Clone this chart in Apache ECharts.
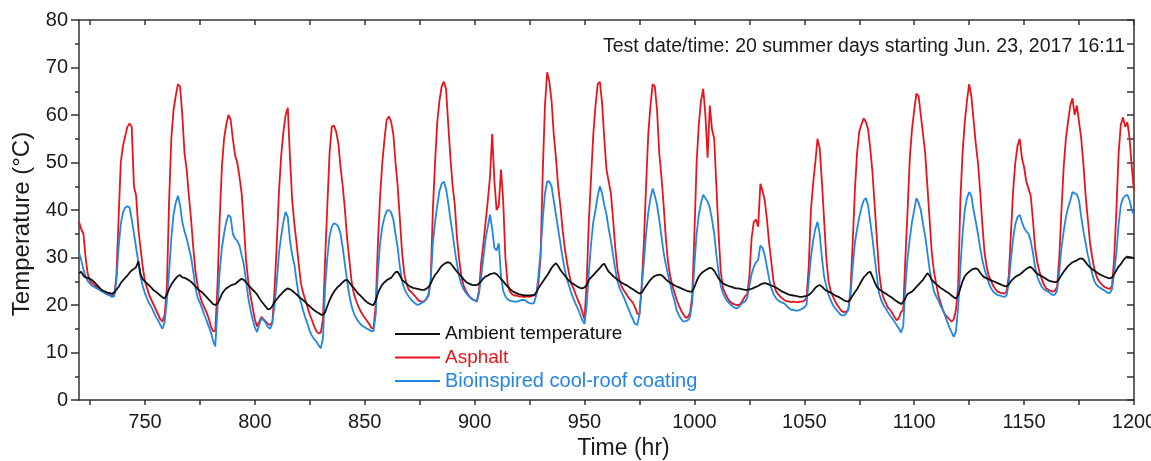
<!DOCTYPE html>
<html>
<head>
<meta charset="utf-8">
<script src="https://cdn.jsdelivr.net/npm/echarts@6/dist/echarts.min.js"></script>
<style>
html,body{margin:0;padding:0;background:#fff;overflow:hidden;width:1151px;height:461px;}
#chart{position:absolute;left:0;top:0;width:1151px;height:461px;}
</style>
</head>
<body>
<div id="chart"></div>
<script>
// Sampling grid: one reading per hour from hour 720 to 1200
const startHour = 720;
const stepHours = 1;

const seriesNames = ['Ambient temperature', 'Asphalt', 'Bioinspired cool-roof coating'];
const xLabelValues = [750, 800, 850, 900, 950, 1000, 1050, 1100, 1150, 1200];
const xTickValues = [725, 750, 775, 800, 825, 850, 875, 900, 925, 950, 975, 1000, 1025, 1050, 1075, 1100, 1125, 1150, 1175, 1200];
const annotation = 'Test date/time: 20 summer days starting Jun. 23, 2017 16:11';

const asphalt = [
37.5, 36, 35, 30, 26.5, 25, 24.6, 24.2, 23.8, 23.4,
23, 22.8, 22.6, 22.4, 22.2, 22, 22, 26, 38, 50,
53.5, 55.5, 57.5, 58.2, 57.5, 45, 43, 36, 32, 28,
25, 23.5, 22, 21, 20, 19, 18, 17, 16.5, 18,
24, 42, 55, 61, 64, 66.5, 66, 60, 52, 48.5,
43, 38, 32, 27, 24, 22, 20.5, 19.5, 18.5, 17.2,
15.5, 14.5, 14.5, 24, 38, 49, 55, 58, 60, 59,
55, 51.5, 50, 47, 43.5, 37, 29.5, 25, 22, 19.5,
17, 15.5, 16.5, 17.5, 17, 16.5, 16, 15.8, 16.5, 23.5,
33, 44, 51.5, 56.5, 60, 61.5, 51, 42, 37, 33,
28.5, 24.5, 22.5, 21, 19.5, 18, 16.8, 15.5, 14.5, 14,
14.2, 17, 30, 41, 52, 57.5, 57.8, 56.5, 54, 49,
45, 40, 34, 29.5, 25, 22.5, 21, 19.8, 18.8, 18,
17.3, 16.7, 16, 15.2, 15, 20, 33, 43, 50, 55,
59, 59.7, 58.6, 56, 50, 45, 38, 31, 26.5, 24.5,
23.2, 22.8, 22.3, 21.8, 21.2, 20.8, 20.7, 20.8, 21.2, 22,
25, 40, 50, 58.5, 63, 66, 67, 65.5, 58, 51,
45, 41, 34, 29.5, 26, 24, 23, 22.2, 21.6, 21.2,
21, 20.8, 23, 29, 33, 37.5, 42, 47, 56, 46,
40, 41, 48.5, 42, 30, 24.5, 22.8, 22.3, 22, 22,
21.8, 21.8, 21.7, 21.7, 21.8, 21.7, 21.9, 22, 22.2, 24.5,
30, 48, 62, 69, 67, 63, 56, 51, 45, 41,
36, 32, 29, 26.5, 24.5, 23.5, 22.2, 21, 20, 18.5,
17, 25, 38, 47, 56, 62, 66.5, 67, 62.5, 55,
48.5, 46, 43.5, 38, 32, 27.5, 25, 23.8, 23, 22.3,
21.6, 21, 20.5, 19.5, 18.2, 18, 24, 33, 45, 56,
62, 66.5, 66, 61, 52, 47, 41, 34, 29, 26,
24, 22.5, 21, 19.8, 18.8, 18, 17.3, 17.5, 18.3, 22,
35, 50, 58, 63, 65.5, 60, 51, 62, 57, 55,
45, 35, 27, 23.5, 22.5, 21.5, 20.8, 20.4, 20.2, 20,
20, 20.2, 21, 21.8, 22.3, 26, 34, 37.5, 38, 36.5,
45.5, 44, 42, 38, 33, 29, 25, 23, 22.3, 21.8,
21.4, 21, 20.8, 20.7, 20.6, 20.7, 20.6, 20.6, 20.7, 20.7,
20.9, 21.5, 28, 40, 45.5, 50, 55, 53, 46, 38,
30, 25, 23, 21.8, 20.8, 20, 19.3, 18.7, 18.5, 18.6,
19, 23, 33, 44, 52, 56.5, 58, 59.3, 58.6, 57,
53, 48, 41, 34, 27, 23.5, 21.5, 20.5, 19.5, 19,
18.3, 17.5, 16.8, 17.2, 18.5, 19, 30, 40, 51, 57,
61, 64.5, 64, 60, 56, 52, 45, 38, 31, 27,
24.5, 22, 20.5, 19, 18, 17.5, 17, 16.5, 17, 19,
24, 42, 52, 58.5, 63, 66.5, 64, 59, 54, 50,
44, 37, 31, 28, 26, 25, 24, 23.3, 22.8, 22.6,
22.5, 22.4, 22.8, 26, 35, 44, 50, 53.5, 55, 51,
49, 46, 44.5, 43, 38, 32, 29, 27, 25.5, 24.3,
23.5, 23.2, 23, 22.8, 23, 23.8, 30, 40, 49, 55,
58.6, 62, 63.5, 60, 62, 58.5, 55, 49.5, 43, 38,
33, 30, 27.5, 26, 25, 24.5, 24, 23.7, 23.5, 23.4,
24, 30, 40, 52, 58, 59.5, 57.5, 58.5, 55, 49,
44
];

const coating = [
31, 29.5, 27.5, 26, 25, 24.5, 24, 23.8, 23.5, 23.3,
23, 22.7, 22.4, 22.2, 22, 21.7, 21.8, 25, 32, 37,
39.5, 40.5, 40.8, 40.5, 38, 35, 32, 29, 26, 24,
22.5, 21.3, 20.3, 19.5, 18.5, 17.5, 16.8, 15.8, 15, 16.5,
21, 27, 34, 39, 41.5, 43, 41, 37.5, 35.5, 34,
32, 30, 27, 23.5, 21.5, 20.5, 19.3, 18, 16.8, 15.5,
14.2, 12.5, 11.3, 19, 27, 32, 35, 37.5, 39, 38.5,
35, 34, 33.5, 32.5, 30.5, 28.5, 25, 21.5, 19, 17,
15.3, 14.3, 15.8, 17.2, 16.8, 16.2, 15.3, 15, 16.3, 20,
25, 31, 34.5, 37.5, 39.6, 38.5, 33.5, 30.5, 28.5, 25,
22, 20.5, 18.8, 17.3, 16, 14.5, 13.5, 12.8, 12.3, 11.5,
10.9, 13, 24, 30, 34.5, 36.5, 37.2, 37, 36.5, 35,
32, 28.5, 25, 22, 19.8, 18.3, 17.3, 16.6, 16, 15.6,
15.3, 15, 14.8, 14.5, 14.5, 18, 27, 33, 36.5, 38.5,
39.8, 40, 39.5, 38, 35, 32, 28, 25, 23.5, 22.5,
21.8, 21.2, 20.7, 20.3, 20, 20.2, 20.5, 20.7, 21.3, 22.3,
25, 33, 37.5, 41, 44, 45.5, 46, 44.5, 41.5, 38,
35, 31.5, 28.5, 26, 24.3, 23.3, 22.6, 22, 21.6, 21.2,
21, 20.7, 22.5, 26, 30, 34, 36.5, 39, 36, 32,
31.5, 33, 26, 23, 21.8, 21.2, 20.9, 20.8, 20.7, 20.7,
20.8, 21, 21.1, 21, 20.6, 20.4, 20.3, 20.4, 22, 26,
31, 38, 43.5, 46, 46, 45, 42, 39, 36, 33,
30, 27.5, 25.5, 24, 22.5, 21.3, 20.2, 19.2, 18, 16.8,
16, 20, 27, 33, 37.5, 40, 43, 45, 43.5, 41,
39, 36, 33.5, 30.5, 27.5, 25, 23.5, 22.5, 21.5, 20.3,
19.2, 18, 17, 16, 15.8, 18, 23.5, 29, 35, 39.5,
42.5, 44.5, 43, 41, 38, 34.5, 31, 28.5, 26.3, 24.5,
22.3, 20.8, 18.8, 17.8, 17, 16.5, 16.6, 16.8, 17.5, 20.5,
28.5, 35, 39, 41.5, 43.2, 42.5, 41.8, 40.5, 38, 35,
30.5, 27, 24, 22.5, 21.5, 20.8, 20.3, 19.9, 19.5, 19.3,
19.5, 20, 20.5, 20.7, 21.5, 24, 26.5, 28, 29, 29.5,
32.5, 32, 30.5, 28, 25.5, 23.5, 22.3, 21.5, 21, 20.7,
20.5, 20.3, 19.8, 19.3, 19, 19, 18.8, 18.8, 19, 19.2,
19.5, 20, 25, 30, 33.5, 36, 37.5, 35, 30, 26,
24, 22.2, 21, 20, 19.3, 18.8, 18.2, 17.8, 17.8, 18.2,
19, 22, 28, 33, 36, 38.5, 40.5, 42, 42.5, 41,
37.5, 34, 30, 26, 22.5, 21, 20, 19.3, 18.5, 17.8,
17.2, 16.5, 15.8, 15.1, 14.2, 15.5, 24, 30, 34, 37.5,
40, 42.5, 41.5, 40, 37, 34.5, 31, 27.5, 25, 22.8,
21.8, 21, 19.8, 19, 17.8, 16.5, 15.3, 14.3, 13.3, 14.5,
19.5, 28, 35, 40, 42.5, 43.8, 43, 40, 37.5, 35,
32, 29.5, 27.5, 26, 24.5, 23.5, 22.8, 22.4, 22.1, 22,
21.8, 21.7, 22, 24.5, 29.5, 34, 37, 38.5, 39, 37.5,
36.2, 35.5, 35, 33.5, 31, 28, 26, 24.8, 23.9, 23.3,
23, 22.8, 22.4, 22.1, 22.2, 23, 27, 32, 35.5, 38.5,
40.5, 42, 43.8, 43.5, 43.3, 42, 38.5, 35.5, 33, 30.5,
28.5, 26.5, 25, 24.2, 23.8, 23.5, 23.2, 22.9, 22.6, 22.5,
23.3, 27, 31, 37, 41, 42.5, 43, 43.2, 42, 40,
39
];

const ambient = [
26.7, 27, 26.2, 25.8, 25.7, 25.5, 25.2, 24.8, 24.3, 23.8,
23.3, 23, 22.8, 22.6, 22.5, 22.4, 22.6, 23.2, 23.8, 24.6,
25.2, 25.7, 26.2, 26.8, 27.3, 27.6, 28, 29.2, 26.5, 25.4,
25, 24.5, 24.1, 23.6, 23.1, 22.8, 22.4, 22, 21.6, 21.4,
22.2, 23.4, 24.3, 25, 25.6, 26.1, 26.3, 25.8, 25.7, 25.5,
25.2, 24.9, 24.4, 23.9, 23.4, 23, 22.7, 22.2, 21.7, 21.2,
20.7, 20.2, 20, 20.3, 21.2, 22.3, 23, 23.5, 23.8, 24.1,
24.3, 24.4, 24.8, 25.2, 25.5, 25.3, 24.8, 24.2, 23.7, 23.2,
22.8, 22.2, 21.5, 20.8, 20.2, 19.6, 19.1, 19.2, 19.8, 20.7,
21.2, 21.8, 22.3, 22.8, 23.2, 23.5, 23.3, 23, 22.6, 22.2,
21.8, 21.4, 21, 20.6, 20.1, 19.7, 19.3, 18.9, 18.6, 18.3,
18, 17.9, 18.5, 19.8, 21, 22, 22.8, 23.4, 23.9, 24.3,
24.8, 25.2, 25.3, 24.7, 24.1, 23.6, 23, 22.4, 22, 21.5,
21, 20.6, 20.3, 20.1, 20, 21, 22.5, 23.5, 24.3, 24.8,
25.2, 25.5, 25.7, 26.3, 26.9, 27, 26.2, 25.3, 24.9, 24.5,
24.1, 23.8, 23.6, 23.5, 23.4, 23.3, 23.2, 23.2, 23.4, 23.8,
24.5, 25.5, 26.3, 26.9, 27.6, 28.2, 28.6, 28.9, 29, 28.8,
28.2, 27.6, 27, 26.5, 26, 25.4, 24.9, 24.6, 24.4, 24.2,
24.2, 24.2, 24.5, 25, 25.6, 26, 26.2, 26.5, 26.6, 26.7,
26.5, 26, 25.5, 25, 24.4, 23.9, 23.4, 23, 22.7, 22.5,
22.3, 22.2, 22.1, 22, 22, 22, 22.1, 22.1, 22.6, 23.5,
24.2, 24.9, 25.6, 26.2, 27, 27.8, 28.4, 28.8, 28.2, 27.4,
26.8, 26.2, 25.6, 25.1, 24.7, 24.4, 24.1, 23.8, 23.6, 23.5,
23.7, 24.2, 25.3, 25.8, 26.3, 26.8, 27.3, 27.8, 28.4, 28.7,
27.8, 27, 26.6, 26.1, 25.7, 25.3, 25, 24.7, 24.4, 24.2,
23.9, 23.6, 23.3, 23, 22.7, 22.4, 22.6, 23.3, 24, 24.7,
25.3, 25.8, 26.1, 26.3, 26.4, 26.3, 25.9, 25.4, 25, 24.7,
24.4, 24.1, 23.9, 23.7, 23.5, 23.3, 23.1, 22.9, 22.8, 22.8,
23.8, 25, 26, 26.6, 27, 27.3, 27.6, 27.8, 27.7, 27.2,
26.4, 25.6, 25, 24.6, 24.3, 24.1, 23.9, 23.8, 23.6, 23.5,
23.5, 23.4, 23.3, 23.2, 23.2, 23.3, 23.4, 23.6, 23.8, 24,
24.3, 24.5, 24.6, 24.5, 24.3, 24.1, 23.9, 23.7, 23.4, 23.1,
22.8, 22.6, 22.4, 22.2, 22.1, 22, 21.9, 21.8, 21.7, 21.7,
21.8, 21.9, 22.1, 22.5, 23, 23.6, 24, 24.2, 23.9, 23.4,
23, 22.8, 22.6, 22.3, 22, 21.8, 21.6, 21.3, 21, 20.8,
20.7, 21.2, 22, 22.7, 23.3, 24.2, 25, 25.8, 26.3, 26.8,
27, 26, 24.8, 23.8, 23.3, 23, 22.7, 22.4, 22.1, 21.8,
21.5, 21.1, 20.8, 20.5, 20.2, 20.6, 21.5, 22.3, 22.6, 22.8,
23.3, 23.8, 24.3, 24.8, 25.3, 26, 26.7, 26.2, 25.3, 24.8,
24.4, 24, 23.6, 23.3, 23, 22.7, 22.4, 22, 21.6, 21.4,
22, 23.5, 25, 26, 26.6, 27, 27.4, 27.6, 27.7, 27.5,
26.8, 26.2, 25.8, 25.6, 25.4, 25.2, 25, 24.8, 24.6, 24.4,
24.2, 24, 23.9, 24.3, 25, 25.5, 25.9, 26.2, 26.4, 26.8,
27.2, 27.6, 27.9, 28, 27.6, 27, 26.6, 26.3, 26.1, 25.8,
25.5, 25.2, 25, 24.9, 24.8, 24.9, 25.5, 26.3, 27, 27.6,
28.2, 28.6, 29, 29.2, 29.4, 29.7, 29.8, 29.6, 29, 28.4,
27.9, 27.5, 27.2, 26.9, 26.6, 26.3, 26.1, 25.9, 25.7, 25.6,
25.8, 26.5, 27.3, 28.1, 28.6, 29.3, 29.9, 30.2, 30.1, 30,
29.8
];

const toPairs = arr => arr.map((v, i) => [startHour + i * stepHours, v]);

const FONT = '"Liberation Sans", Arial, sans-serif';
const AXIS_COLOR = '#333';
const TEXT_COLOR = '#1a1a1a';
const RED = '#e8141b';
const BLUE = '#2286e6';
const BLACK = '#111111';

const chart = echarts.init(document.getElementById('chart'), null, {renderer: 'canvas', width: 1151, height: 461});

const axisLineStyle = {color: AXIS_COLOR, width: 1.5};
const plain = v => String(v);

chart.setOption({
  animation: false,
  backgroundColor: '#ffffff',
  textStyle: {fontFamily: FONT},
  title: {
    text: annotation,
    right: 21,
    top: 32,
    textStyle: {fontFamily: FONT, fontSize: 19.5, fontWeight: 'normal', color: TEXT_COLOR}
  },
  legend: {
    orient: 'vertical',
    left: 390,
    top: 319,
    icon: 'rect',
    itemWidth: 45,
    itemHeight: 2,
    itemGap: 3.5,
    textStyle: {fontFamily: FONT, fontSize: 19, lineHeight: 20},
    data: [
      {name: seriesNames[0], textStyle: {color: BLACK}},
      {name: seriesNames[1], textStyle: {color: RED}},
      {name: seriesNames[2], textStyle: {color: BLUE, fontSize: 20}}
    ]
  },
  grid: {left: 79, right: 17, top: 20, bottom: 61, containLabel: false, outerBoundsMode: 'none'},
  xAxis: [
    {
      type: 'value', position: 'bottom', min: 720, max: 1200,
      axisLine: {show: true, onZero: false, lineStyle: axisLineStyle},
      axisTick: {show: true, inside: false, length: 5, customValues: xTickValues, lineStyle: axisLineStyle},
      axisLabel: {show: true, customValues: xLabelValues, formatter: plain, fontFamily: FONT, fontSize: 20, color: TEXT_COLOR, margin: 12},
      splitLine: {show: false},
      name: 'Time (hr)', nameLocation: 'middle', nameGap: 34,
      nameTextStyle: {fontFamily: FONT, fontSize: 23, color: TEXT_COLOR, padding: [0, 0, 0, 34]}
    },
    {
      type: 'value', position: 'top', min: 720, max: 1200,
      axisLine: {show: true, onZero: false, lineStyle: axisLineStyle},
      axisTick: {show: true, inside: true, length: 5, customValues: xTickValues, lineStyle: axisLineStyle},
      axisLabel: {show: false},
      splitLine: {show: false}
    }
  ],
  yAxis: [
    {
      type: 'value', position: 'left', min: 0, max: 80, interval: 10,
      axisLine: {show: true, onZero: false, lineStyle: axisLineStyle},
      axisTick: {show: true, inside: false, length: 8, lineStyle: axisLineStyle},
      minorTick: {show: true, splitNumber: 2, length: 4, lineStyle: axisLineStyle},
      axisLabel: {formatter: plain, fontFamily: FONT, fontSize: 20, color: TEXT_COLOR, margin: 11},
      splitLine: {show: false},
      minorSplitLine: {show: false},
      name: 'Temperature (°C)', nameLocation: 'middle', nameGap: 44, nameRotate: 90,
      nameTextStyle: {fontFamily: FONT, fontSize: 24, color: TEXT_COLOR, padding: [0, 28, 0, 0]}
    },
    {
      type: 'value', position: 'right', min: 0, max: 80, interval: 5,
      axisLine: {show: true, onZero: false, lineStyle: axisLineStyle},
      axisTick: {show: true, inside: true, length: 7, lineStyle: axisLineStyle},
      axisLabel: {show: false},
      splitLine: {show: false}
    }
  ],
  series: [
    {
      name: seriesNames[1], type: 'line', xAxisIndex: 0, yAxisIndex: 0,
      data: toPairs(asphalt), showSymbol: false, symbol: 'none',
      lineStyle: {color: RED, width: 1.8}, itemStyle: {color: RED}, z: 2
    },
    {
      name: seriesNames[2], type: 'line', xAxisIndex: 0, yAxisIndex: 0,
      data: toPairs(coating), showSymbol: false, symbol: 'none',
      lineStyle: {color: BLUE, width: 1.8}, itemStyle: {color: BLUE}, z: 3
    },
    {
      name: seriesNames[0], type: 'line', xAxisIndex: 0, yAxisIndex: 0,
      data: toPairs(ambient), showSymbol: false, symbol: 'none',
      lineStyle: {color: BLACK, width: 1.8}, itemStyle: {color: BLACK}, z: 4
    }
  ]
});
</script>
</body>
</html>
